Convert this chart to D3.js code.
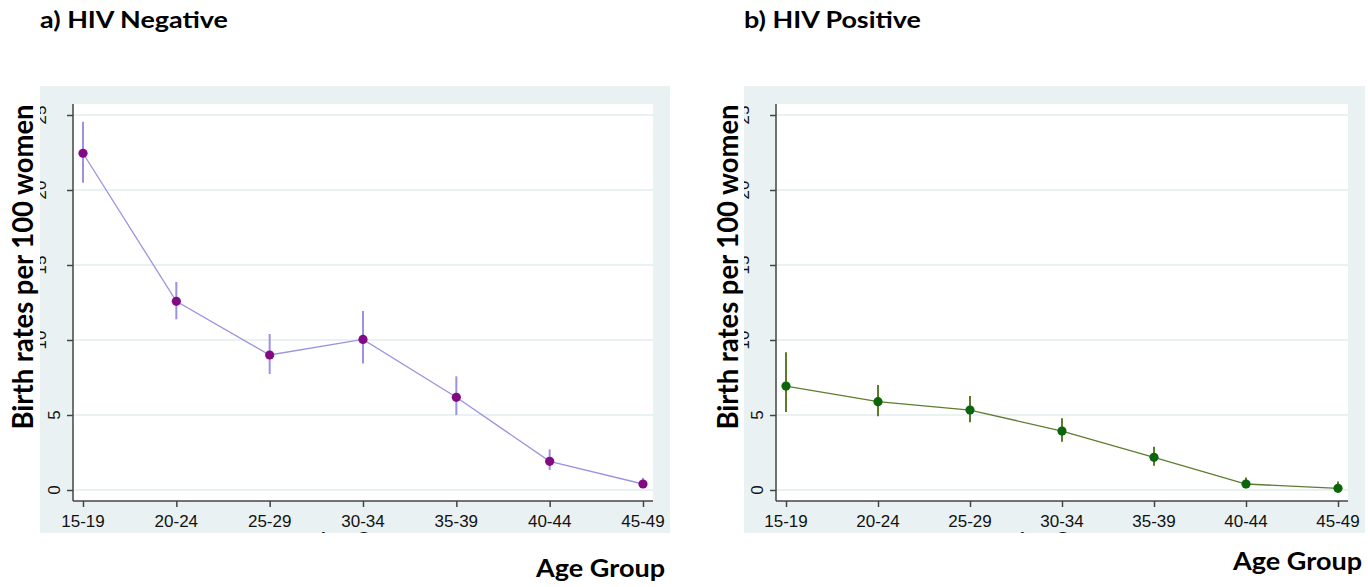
<!DOCTYPE html>
<html>
<head>
<meta charset="utf-8">
<script src="https://cdn.jsdelivr.net/npm/d3@7"></script>
<style>
  body { margin: 0; background: #fff; }
  svg { display: block; }
  .tick-label { font-family: "Liberation Sans", Arial, sans-serif; font-size: 17px; fill: #111; }
  .big { font-family: Lato, "Open Sans", sans-serif; font-weight: 700; fill: #000; }
</style>
</head>
<body>
<div class="container"></div>
<script>
// categories
const ageGroups = ["15-19", "20-24", "25-29", "30-34", "35-39", "40-44", "45-49"];
const yTicks = [0, 5, 10, 15, 20, 25];

// HIV negative: rate and 95% CI
const negRate  = [22.45, 12.58, 9.00, 10.04, 6.18, 1.91, 0.40];
const negLower = [20.49, 11.38, 7.73, 8.44, 5.00, 1.33, 0.25];
const negUpper = [24.55, 13.87, 10.40, 11.93, 7.58, 2.71, 0.80];

// HIV positive: rate and 95% CI
const posRate  = [6.93, 5.89, 5.33, 3.93, 2.18, 0.40, 0.11];
const posLower = [5.20, 4.91, 4.51, 3.22, 1.62, 0.11, 0.00];
const posUpper = [9.18, 7.00, 6.27, 4.78, 2.89, 0.84, 0.56];

const w = 1368, h = 587;
const bgColor = "#eaf1f3";

const svg = d3.select(".container")
              .append("svg")
              .attr("width", w)
              .attr("height", h);

svg.append("rect").attr("width", w).attr("height", h).attr("fill", "#fff");

/* one panel of the figure */
const drawPanel = (p) => {
    const rows = ageGroups.map((a, i) => ({age: a, rate: p.rate[i], lo: p.lower[i], hi: p.upper[i]}));

    const xScale = d3.scalePoint()
                     .domain(ageGroups)
                     .range([p.plotLeft + 10, p.plotRight - 10]);
    const yScale = d3.scaleLinear()
                     .domain([0, 25])
                     .range([490, 115]);

    // clip everything to the grey background box (the picture was cropped)
    svg.append("clipPath")
       .attr("id", p.id + "-clip")
       .append("rect")
       .attr("x", p.bgLeft).attr("y", 86)
       .attr("width", p.bgRight - p.bgLeft).attr("height", 533 - 86);

    const g = svg.append("g").attr("clip-path", `url(#${p.id}-clip)`);

    g.append("rect")
     .attr("x", p.bgLeft).attr("y", 86)
     .attr("width", p.bgRight - p.bgLeft).attr("height", 533 - 86)
     .attr("fill", bgColor);

    g.append("rect")
     .attr("x", p.plotLeft).attr("y", 104)
     .attr("width", p.plotRight - p.plotLeft).attr("height", 501 - 104)
     .attr("fill", "#fff");

    // grid lines
    g.selectAll(".grid")
     .data(yTicks)
     .enter()
     .append("line")
     .attr("x1", p.plotLeft).attr("x2", p.plotRight)
     .attr("y1", (d) => yScale(d)).attr("y2", (d) => yScale(d))
     .attr("stroke", bgColor)
     .attr("stroke-width", 2);

    // y axis (labels rotated, stata style)
    const yAxis = d3.axisLeft(yScale).tickValues(yTicks).tickSize(6).tickFormat("");
    const ya = g.append("g")
                .attr("transform", `translate(${p.plotLeft}, 0)`)
                .call(yAxis);
    ya.select(".domain").attr("d", `M0,104V501`);
    ya.selectAll("line, path").attr("stroke", "#444").attr("stroke-width", 1.5);

    g.selectAll(".ylab")
     .data(yTicks)
     .enter()
     .append("text")
     .attr("class", "tick-label")
     .attr("text-anchor", "middle")
     .attr("transform", (d) => `translate(${p.plotLeft - (d < 10 ? 13 : 27)}, ${yScale(d)}) rotate(-90)`)
     .text((d) => d);

    // x axis
    const xAxis = d3.axisBottom(xScale).tickSize(6).tickSizeOuter(0).tickFormat("");
    const xa = g.append("g")
                .attr("transform", "translate(0, 501)")
                .call(xAxis);
    xa.select(".domain").attr("d", `M${p.plotLeft},0H${p.plotRight}`);
    xa.selectAll("line, path").attr("stroke", "#444").attr("stroke-width", 1.5);

    g.selectAll(".xlab")
     .data(ageGroups)
     .enter()
     .append("text")
     .attr("class", "tick-label")
     .attr("text-anchor", "middle")
     .attr("x", (d) => xScale(d))
     .attr("y", 527)
     .text((d) => d);

    // original axis title, cut off by the crop
    g.append("text")
     .attr("class", "tick-label")
     .attr("text-anchor", "middle")
     .style("font-size", "19px")
     .attr("x", (p.plotLeft + p.plotRight) / 2)
     .attr("y", 545)
     .text("Age Group");

    // CI bars
    g.selectAll(".ci")
     .data(rows)
     .enter()
     .append("line")
     .attr("x1", (d) => xScale(d.age)).attr("x2", (d) => xScale(d.age))
     .attr("y1", (d) => yScale(d.lo)).attr("y2", (d) => yScale(d.hi))
     .attr("stroke", p.ciColor)
     .attr("stroke-width", 2);

    const line = d3.line()
                   .x((d) => xScale(d.age))
                   .y((d) => yScale(d.rate));

    g.append("path")
     .datum(rows)
     .attr("d", line)
     .attr("fill", "none")
     .attr("stroke", p.lineColor)
     .attr("stroke-width", 1.3);

    g.selectAll(".pt")
     .data(rows)
     .enter()
     .append("circle")
     .attr("cx", (d) => xScale(d.age))
     .attr("cy", (d) => yScale(d.rate))
     .attr("r", 4.6)
     .attr("fill", p.markColor);

    // pasted-on titles
    svg.append("text")
       .attr("class", "big")
       .attr("x", p.bgLeft)
       .attr("y", 28)
       .attr("font-size", 23)
       .attr("textLength", p.titleLen)
       .attr("lengthAdjust", "spacingAndGlyphs")
       .text(p.title);

    svg.append("text")
       .attr("class", "big")
       .attr("text-anchor", "middle")
       .attr("font-size", 29)
       .attr("transform", `translate(${p.yTitleX}, 267) rotate(-90)`)
       .attr("textLength", 325)
       .attr("lengthAdjust", "spacingAndGlyphs")
       .text("Birth rates per 100 women");

    svg.append("text")
       .attr("class", "big")
       .attr("text-anchor", "end")
       .attr("font-size", 24)
       .attr("x", p.ageRight)
       .attr("y", p.ageY)
       .attr("textLength", 129)
       .attr("lengthAdjust", "spacingAndGlyphs")
       .text("Age Group");
};

drawPanel({
    id: "neg", title: "a) HIV Negative", titleLen: 188,
    rate: negRate, lower: negLower, upper: negUpper,
    bgLeft: 40, bgRight: 670, plotLeft: 73, plotRight: 653,
    yTitleX: 33, ageRight: 665, ageY: 577,
    markColor: "#840a84", lineColor: "#9b93df", ciColor: "#9d92e2"
});

drawPanel({
    id: "pos", title: "b) HIV Positive", titleLen: 177,
    rate: posRate, lower: posLower, upper: posUpper,
    bgLeft: 744, bgRight: 1365, plotLeft: 776, plotRight: 1348,
    yTitleX: 738, ageRight: 1362, ageY: 570,
    markColor: "#0b650b", lineColor: "#5d7d30", ciColor: "#5a7d2b"
});
</script>
</body>
</html>
